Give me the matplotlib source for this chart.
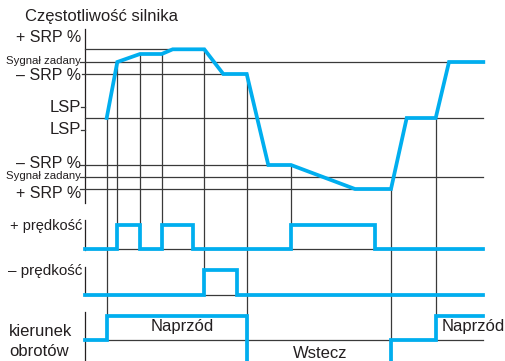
"""Timing diagram: motor frequency vs. +/- speed inputs and direction of rotation."""
import matplotlib.pyplot as plt
import numpy as np

plt.rcParams['font.family'] = ['Liberation Sans', 'DejaVu Sans']

BLUE = '#00aeef'
INK = '#231f20'
GRID = '#3a3a3a'

# motor frequency curve (time, level)
freq_t = [106.7, 117.3, 140, 161.7, 172.7, 204.3, 223.3, 246.7, 268.3, 291, 355, 391, 406.7, 435.7, 449, 483.3]
freq_y = [118, 62, 54, 54, 49.3, 49.3, 74, 74, 165, 165, 189, 189, 118, 118, 62, 62]

# logic inputs: switching times and states after each edge
plus_t = [85.3, 117.3, 140, 161.7, 193.3, 291, 375, 483.3]
plus_s = [0, 1, 0, 1, 0, 1, 0, 0]
minus_t = [85.3, 204.3, 236.7, 483.3]
minus_s = [0, 1, 0, 0]
dir_t = [85.3, 106.7, 246.7, 391, 435.7, 483.3]
dir_s = [0, 1, -1, 0, 1, 1]

# events marked with vertical guides, and the track each guide runs down to
event_t = [106.7, 117.3, 140, 161.7, 204.3, 246.7, 291, 391, 435.7]
event_to = ['dir', 'plus', 'plus', 'plus', 'minus', 'end', 'plus', 'end', 'dir']

# frequency reference levels: (level, label, x from, x to)
ref_lines = [(49.3, None, 85.3, 204.3),
             (62, 'Sygnał zadany', 80, 483.3),
             (74, '– SRP %', 82, 246.7),
             (118, None, 85.3, 483.3),
             (165, '– SRP %', 80, 291),
             (177, 'Sygnał zadany', 80, 483.3),
             (189, '+ SRP %', 80, 391)]

TRACK = {'plus': (249.3, 24.3), 'minus': (295, 25), 'dir': (340, 24.3), 'end': (361, 0)}
AXIS_X = 85.3

fig = plt.figure(figsize=(5.05, 3.61), dpi=100)
ax = fig.add_axes([0, 0, 1, 1])
ax.set_xlim(0, 505)
ax.set_ylim(361, 0)
ax.axis('off')

# left axis, broken between tracks
for y0, y1 in [(29, 203), (220, 250), (267, 295), (312, 361)]:
    ax.plot([AXIS_X, AXIS_X], [y0, y1], color=INK, lw=0.9)

for lvl, _, x0, x1 in ref_lines:
    ax.plot([x0, x1], [lvl, lvl], color=GRID, lw=0.9)
for lvl in (107, 130):
    ax.plot([81, AXIS_X], [lvl, lvl], color=GRID, lw=0.9)

# track baselines
for name in ('plus', 'minus', 'dir'):
    base = TRACK[name][0]
    ax.plot([AXIS_X, 483.3], [base, base], color=GRID, lw=0.9)

# vertical event guides
for t, trk in zip(event_t, event_to):
    top = np.interp(t, freq_t, freq_y)
    base, h = TRACK[trk]
    bottom = base - h
    ax.plot([t, t], [top, bottom], color=GRID, lw=0.9)

ax.plot(freq_t, freq_y, color=BLUE, lw=2.7, solid_joinstyle='miter', zorder=5)


def step(t, s, trk):
    base, h = TRACK[trk]
    y = [base - h * v for v in s]
    ax.plot(t, y, drawstyle='steps-post', color=BLUE, lw=2.7, zorder=5,
            solid_joinstyle='miter')


step(plus_t, plus_s, 'plus')
step(minus_t, minus_s, 'minus')
step(dir_t, dir_s, 'dir')

# labels
ax.text(25, 16, 'Częstotliwość silnika', fontsize=12, color=INK, va='center', ha='left')
ax.text(81, 37, '+ SRP %', fontsize=11.5, color=INK, va='center', ha='right')
ax.text(81, 107, 'LSP', fontsize=12, color=INK, va='center', ha='right')
ax.text(81, 130, 'LSP', fontsize=12, color=INK, va='center', ha='right')
ax.text(81, 194, '+ SRP %', fontsize=11.5, color=INK, va='center', ha='right')
for lvl, lab, _, _ in ref_lines:
    if lab is None or lab.startswith('+'):
        continue
    if lab.startswith('Sygna'):
        ax.text(80.5, lvl - 1, lab, fontsize=8.2, color=INK, va='center', ha='right')
    else:
        ax.text(81, lvl + 2 if lvl < 100 else lvl - 2, lab, fontsize=11.5, color=INK,
                va='center', ha='right')

ax.text(82, 226, '+ prędkość', fontsize=10.5, color=INK, va='center', ha='right')
ax.text(82, 271, '– prędkość', fontsize=11, color=INK, va='center', ha='right')
ax.text(9, 332, 'kierunek', fontsize=12, color=INK, va='center', ha='left')
ax.text(9, 351, 'obrotów', fontsize=12, color=INK, va='center', ha='left')
ax.text(182, 326, 'Naprzód', fontsize=12, color=INK, va='center', ha='center')
ax.text(320, 353, 'Wstecz', fontsize=12, color=INK, va='center', ha='center')
ax.text(442, 326, 'Naprzód', fontsize=12, color=INK, va='center', ha='left')

fig.savefig('out.png', dpi=100, facecolor='white')
